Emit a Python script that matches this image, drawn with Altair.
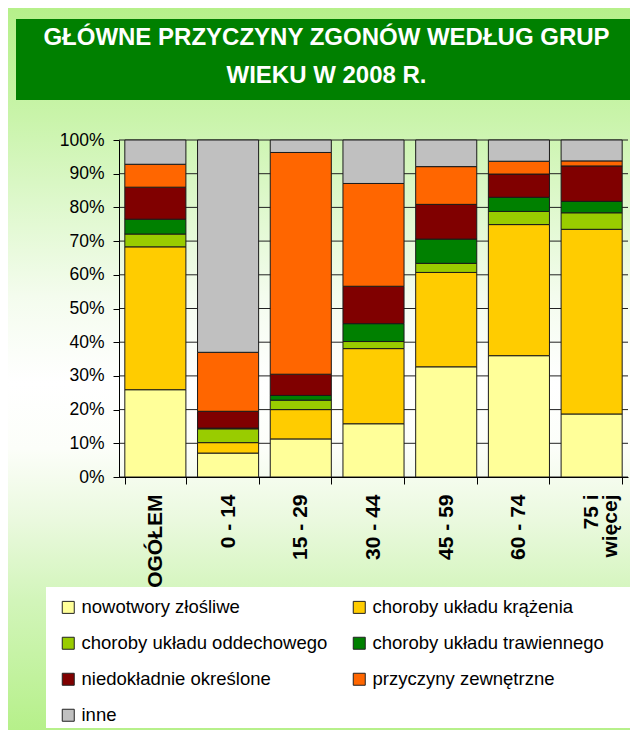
import altair as alt
import pandas as pd

# ---------------- data ----------------
categories = ["OGÓŁEM", "0 - 14", "15 - 29", "30 - 44", "45 - 59", "60 - 74", "75 i więcej"]
series = [
    "nowotwory złośliwe",
    "choroby układu krążenia",
    "choroby układu oddechowego",
    "choroby układu trawiennego",
    "niedokładnie określone",
    "przyczyny zewnętrzne",
    "inne",
]
colors = ["#FFFF99", "#FFCC00", "#99CC00", "#008000", "#800000", "#FF6600", "#C0C0C0"]

nowotwory = [25.9, 7.1, 11.3, 15.8, 32.7, 36.0, 18.7]
krazenia = [42.4, 3.1, 8.7, 22.3, 28.0, 38.9, 54.8]
oddechowe = [3.8, 4.1, 2.8, 2.1, 2.7, 3.9, 4.9]
trawienne = [4.4, 0.2, 1.4, 5.3, 7.2, 4.2, 3.4]
niedokladne = [9.5, 5.0, 6.3, 11.1, 10.3, 6.9, 10.5]
zewnetrzne = [6.8, 17.5, 65.8, 30.5, 11.2, 3.8, 1.5]
inne = [7.2, 63.0, 3.7, 12.9, 7.9, 6.3, 6.2]

y_ticks = [0, 10, 20, 30, 40, 50, 60, 70, 80, 90, 100]
title_lines = ["GŁÓWNE PRZYCZYNY ZGONÓW WEDŁUG GRUP", "WIEKU W 2008 R."]
spaced_labels = ["nowotwory złośliwe", "choroby układu trawiennego", "przyczyny zewnętrzne", "inne"]

all_values = [nowotwory, krazenia, oddechowe, trawienne, niedokladne, zewnetrzne, inne]
rows = []
for si, (s, vals) in enumerate(zip(series, all_values)):
    for c, v in zip(categories, vals):
        rows.append({"kategoria": c, "przyczyna": s, "udzial": v, "kolejnosc": si})
df = pd.DataFrame(rows)

# legend is filled column by column: reorder so it reads row by row in 2 columns
legend_order = [series[i] for i in range(0, len(series), 2)] + [series[i] for i in range(1, len(series), 2)]

# ---------------- layout ----------------
W, H = 509, 337
PL, PT, PR, PB = 111, 132, 2, 253
FONT = "Liberation Sans"

one = pd.DataFrame({"a": [0]})

bg = alt.Chart(one).mark_rect(
    color=alt.Gradient(
        gradient="linear",
        stops=[
            alt.GradientStop(color="#b6f08a", offset=0),
            alt.GradientStop(color="#c9f4aa", offset=0.15),
            alt.GradientStop(color="#def8cc", offset=0.27),
            alt.GradientStop(color="#f4fcee", offset=0.40),
            alt.GradientStop(color="#ffffff", offset=0.52),
            alt.GradientStop(color="#fcfef9", offset=0.61),
            alt.GradientStop(color="#eaf9de", offset=0.71),
            alt.GradientStop(color="#d2f5ba", offset=0.82),
            alt.GradientStop(color="#b6f08a", offset=1),
        ],
        x1=0, x2=0, y1=0, y2=1,
    )
).encode(x=alt.value(-PL), x2=alt.value(W + PR), y=alt.value(-PT), y2=alt.value(H + PB))

title_box = alt.Chart(one).mark_rect(color="#008000").encode(
    x=alt.value(-103), x2=alt.value(W + PR), y=alt.value(-121), y2=alt.value(-40)
)

title_text = alt.Chart(one).mark_text(
    color="white", font=FONT, fontSize=24, fontWeight="bold",
    align="center", baseline="alphabetic", lineHeight=38,
).encode(x=alt.value(207.5), y=alt.value(-95), text=alt.value(title_lines))

legend_box = alt.Chart(one).mark_rect(color="white").encode(
    x=alt.value(-73), x2=alt.value(W + PR), y=alt.value(447), y2=alt.value(588)
)

y_scale = alt.Scale(domain=[0, 100], nice=False)
y_axis = alt.Axis(
    title=None, values=y_ticks, labelExpr="datum.value + '%'",
    labelFont=FONT, labelFontSize=17.5, labelColor="black", labelPadding=9,
    tickSize=6, tickColor="black", domainColor="black", grid=False, zindex=1,
)

grid = alt.Chart(pd.DataFrame({"udzial": y_ticks})).mark_rule(color="#222222", strokeWidth=1).encode(
    y=alt.Y("udzial:Q", scale=y_scale, axis=y_axis),
    x=alt.value(0),
    x2=alt.value(W),
)

last_cat = categories[-1]
x_label_expr = f"datum.label == '{last_cat}' ? ['75 i\u00a0\u00a0', 'więcej'] : datum.label"
pad_list = "[" + ", ".join(f"'{s}'" for s in spaced_labels) + "]"
legend_label_expr = f"indexof({pad_list}, datum.label) >= 0 ? '\u00a0' + datum.label : datum.label"

bars = alt.Chart(df).mark_bar(stroke="#1a1a1a", strokeWidth=1).encode(
    x=alt.X(
        "kategoria:N",
        sort=categories,
        scale=alt.Scale(paddingInner=0.16, paddingOuter=0.08),
        axis=alt.Axis(
            title=None, labelAngle=270, labelAlign="right", labelBaseline="middle",
            labelFont=FONT, labelFontSize=21, labelFontWeight="bold", labelColor="black",
            labelPadding=10, labelLineHeight=19, labelExpr=x_label_expr, labelOverlap=False,
            tickSize=7, tickColor="black", domainColor="black", tickBand="extent",
            grid=False, zindex=1,
        ),
    ),
    y=alt.Y("udzial:Q", stack="zero", scale=y_scale, axis=y_axis),
    color=alt.Color(
        "przyczyna:N",
        sort=series,
        scale=alt.Scale(domain=series, range=colors),
        legend=alt.Legend(
            title=None, orient="none", legendX=-60, legendY=458, columns=2,
            values=legend_order,
            columnPadding=22, rowPadding=17, symbolType="square", symbolSize=144,
            symbolStrokeColor="#222222", symbolStrokeWidth=1,
            labelFont=FONT, labelFontSize=18.5, labelColor="black", labelOffset=4,
            labelLimit=0, padding=0, labelExpr=legend_label_expr,
        ),
    ),
    order=alt.Order("kolejnosc:Q", sort="ascending"),
)

chart = alt.layer(bg, title_box, title_text, legend_box, grid, bars).properties(
    width=W, height=H,
    padding={"left": PL, "top": PT, "right": PR, "bottom": PB},
    autosize=alt.AutoSizeParams(type="none"),
).configure_view(stroke=None).configure(font=FONT)

chart.save("out.html", embed_options={"renderer": "svg", "actions": False})
